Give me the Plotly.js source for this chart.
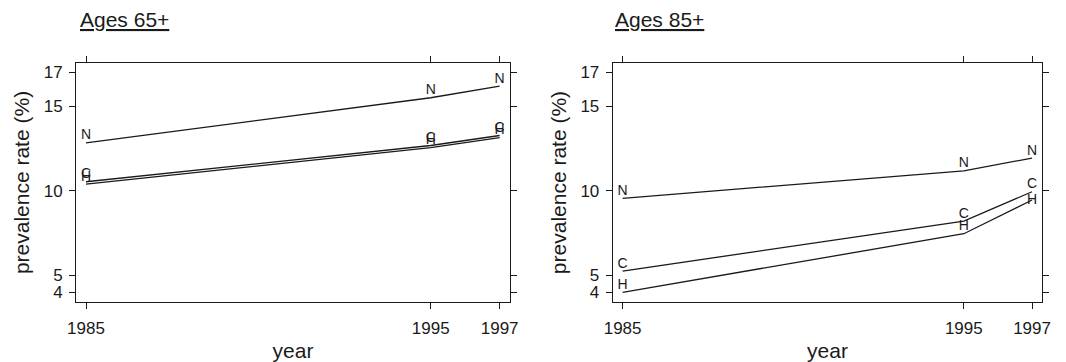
<!DOCTYPE html>
<html>
<head>
<meta charset="utf-8">
<script src="https://cdn.plot.ly/plotly-3.0.1.min.js"></script>
<style>
html,body{margin:0;padding:0;background:#fff;}
#chart{width:1066px;height:362px;}
</style>
</head>
<body>
<div id="chart"></div>
<script>
// ---- data ----
var years = [1985, 1995, 1997];
var yearTicks = [1985, 1995, 1997];
var rateTicks = [4, 5, 10, 15, 17];
var panelTitles = ["Ages 65+", "Ages 85+"];
var seriesLabels = ["N", "C", "H"];
// Ages 65+
var n65 = [12.82, 15.49, 16.18];
var c65 = [10.53, 12.67, 13.26];
var h65 = [10.39, 12.55, 13.14];
// Ages 85+
var n85 = [9.55, 11.17, 11.93];
var c85 = [5.25, 8.21, 9.94];
var h85 = [4.00, 7.46, 9.45];

var W = 1066, H = 362;
var FONT = "Liberation Sans, Arial, Helvetica, sans-serif";
var INK = "#1a1a1a";

function series(y, label, xa, ya, pos) {
  return {
    x: years, y: y,
    xaxis: xa, yaxis: ya,
    mode: "lines+text",
    text: years.map(function(){ return label; }),
    textposition: pos || "top center",
    textfont: {family: FONT, size: 14, color: INK},
    line: {color: INK, width: 1.3},
    hoverinfo: "x+y",
    showlegend: false
  };
}

var data = [
  series(n65, seriesLabels[0], "x", "y"),
  series(c65, seriesLabels[1], "x", "y"),
  series(h65, seriesLabels[2], "x", "y"),
  series(n85, seriesLabels[0], "x2", "y2"),
  series(c85, seriesLabels[1], "x2", "y2"),
  series(h85, seriesLabels[2], "x2", "y2", ["top center", "top center", "middle center"])
];

function xax(domain, anchor) {
  return {
    domain: domain, anchor: anchor,
    range: [1984.71, 1997.30],
    tickmode: "array", tickvals: yearTicks, ticktext: yearTicks.map(String),
    ticks: "outside", ticklen: 6, tickwidth: 1, tickcolor: INK,
    ticklabelstandoff: 4,
    showline: true, linecolor: INK, linewidth: 1, mirror: "allticks",
    showgrid: false, zeroline: false,
    tickfont: {family: FONT, size: 17, color: INK},
    title: {text: "year", font: {family: FONT, size: 21, color: INK}, standoff: 6}
  };
}
function yax(domain, anchor) {
  return {
    domain: domain, anchor: anchor,
    range: [3.41, 17.56],
    tickmode: "array", tickvals: rateTicks, ticktext: rateTicks.map(String),
    ticks: "outside", ticklen: 6, tickwidth: 1, tickcolor: INK,
    ticklabelstandoff: 3,
    showline: true, linecolor: INK, linewidth: 1, mirror: "allticks",
    showgrid: false, zeroline: false,
    tickfont: {family: FONT, size: 17, color: INK},
    title: {text: "prevalence rate (%)", font: {family: FONT, size: 21, color: INK}, standoff: 8}
  };
}

var yDom = [1 - 302.3 / H, 1 - 62.7 / H];
var layout = {
  width: W, height: H,
  margin: {l: 0, r: 0, t: 0, b: 0},
  paper_bgcolor: "#fff", plot_bgcolor: "#fff",
  font: {family: FONT, color: INK},
  xaxis: xax([76 / W, 510 / W], "y"),
  yaxis: yax(yDom, "x"),
  xaxis2: xax([612.7 / W, 1042.3 / W], "y2"),
  yaxis2: yax(yDom, "x2"),
  annotations: [
    {text: "<u>" + panelTitles[0] + "</u>", xref: "paper", yref: "paper",
     x: 78 / W, y: 1 - 20 / H, xanchor: "left", yanchor: "middle", showarrow: false,
     font: {family: FONT, size: 21, color: INK}},
    {text: "<u>" + panelTitles[1] + "</u>", xref: "paper", yref: "paper",
     x: 613 / W, y: 1 - 20 / H, xanchor: "left", yanchor: "middle", showarrow: false,
     font: {family: FONT, size: 21, color: INK}}
  ]
};

Plotly.newPlot("chart", data, layout, {staticPlot: true, displayModeBar: false});
</script>
</body>
</html>
